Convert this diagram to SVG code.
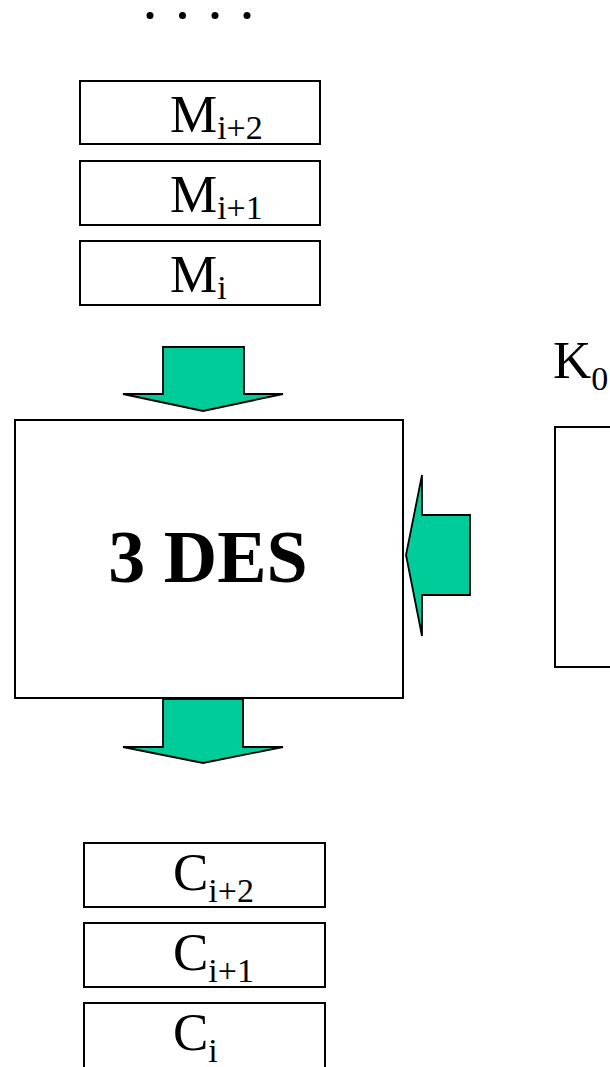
<svg xmlns="http://www.w3.org/2000/svg" width="610" height="1067" viewBox="0 0 610 1067">
  <style>
    .box { fill: #ffffff; stroke: #000000; stroke-width: 2; }
    .flow { fill: #00cc99; stroke: #000000; stroke-width: 1.8; stroke-linejoin: miter; }
    .lbl { font-family: "Liberation Serif", "Times New Roman", serif; fill: #000000; }
    .big { font-size: 53px; }
    .sub { font-size: 34px; }
    .title { font-size: 74px; font-weight: bold; }
  </style>
  <rect width="610" height="1067" fill="#ffffff"/>

  <!-- continuation dots above the message queue -->
  <g id="ellipsis">
    <circle cx="150" cy="15.5" r="3.5"/>
    <circle cx="182.5" cy="15.5" r="3.5"/>
    <circle cx="215" cy="15.5" r="3.5"/>
    <circle cx="247" cy="15.5" r="3.5"/>
  </g>

  <!-- plaintext blocks -->
  <g id="m-i2">
    <rect class="box" x="80" y="81" width="240" height="63"/>
    <text class="lbl big" x="170" y="132">M<tspan class="sub" dy="7">i+2</tspan></text>
  </g>
  <g id="m-i1">
    <rect class="box" x="80" y="161" width="240" height="64"/>
    <text class="lbl big" x="170" y="212">M<tspan class="sub" dy="7">i+1</tspan></text>
  </g>
  <g id="m-i">
    <rect class="box" x="80" y="241" width="240" height="64"/>
    <text class="lbl big" x="170" y="292">M<tspan class="sub" dy="7">i</tspan></text>
  </g>

  <!-- cipher block -->
  <g id="des3">
    <rect class="box" x="15" y="420" width="388" height="278"/>
    <text class="lbl title" x="208" y="582" text-anchor="middle">3 DES</text>
  </g>

  <!-- key block -->
  <g id="key">
    <rect class="box" x="555" y="427" width="80" height="240"/>
    <text class="lbl big" x="553" y="378">K<tspan class="sub" dy="12">0</tspan></text>
  </g>

  <!-- ciphertext blocks -->
  <g id="c-i2">
    <rect class="box" x="84" y="843" width="241" height="64"/>
    <text class="lbl big" x="173" y="890">C<tspan class="sub" dy="12">i+2</tspan></text>
  </g>
  <g id="c-i1">
    <rect class="box" x="84" y="923" width="241" height="64"/>
    <text class="lbl big" x="173" y="970">C<tspan class="sub" dy="12">i+1</tspan></text>
  </g>
  <g id="c-i">
    <rect class="box" x="84" y="1003" width="241" height="80"/>
    <text class="lbl big" x="173" y="1050">C<tspan class="sub" dy="12">i</tspan></text>
  </g>

  <!-- block arrows -->
  <g id="connectors">
    <polygon class="flow" points="163,347 244,347 244,394 283,394 203,411 123,394 163,394"/>
    <polygon class="flow" points="163,699 243,699 243,747 283,747 203,763 123,747 163,747"/>
    <polygon class="flow" points="470,515 470,595 422,595 422,636 406,555 422,475 422,515"/>
  </g>
</svg>
